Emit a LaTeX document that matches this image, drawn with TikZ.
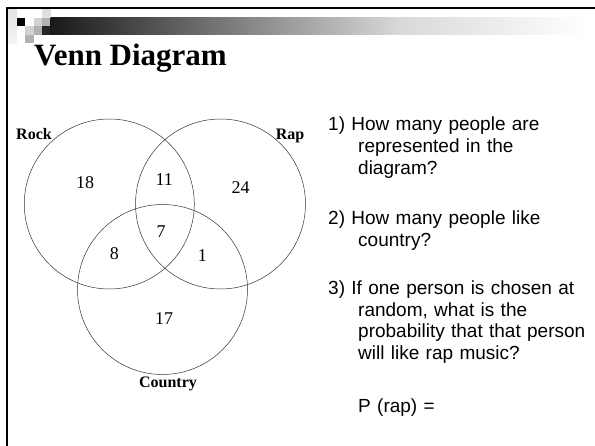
\documentclass[tikz,border=0pt]{standalone}
\usepackage{fontspec}
\setmainfont{Liberation Serif}
\setsansfont{Liberation Sans}
\pgfdeclarehorizontalshading{titlebar}{100bp}{color(0bp)=(black!90); color(25bp)=(black!90); color(57.5bp)=(black!15); color(75bp)=(white); color(100bp)=(white)}
\newcommand\indentq{\hspace*{30pt}}
\tikzset{
  every node/.style={inner sep=0pt},
  venn/.style={circle, draw=black!80, line width=0.5pt, minimum size=170pt},
  setlabel/.style={font=\fontsize{16}{18}\selectfont\bfseries},
  count/.style={font=\fontsize{18}{20}\selectfont},
  question/.style={
    font=\sffamily\fontsize{19}{21.7}\selectfont,
    text width=262pt, align=left, anchor=base west
  },
}

\begin{document}
\begin{tikzpicture}[x=1pt, y=-1pt]
    \useasboundingbox (0,0) rectangle (595,446);

    % Slide frame and header
    \draw[line width=2.2pt] (7,446) -- (7,8) -- (595,8);
    \shade[top color=gray!22, bottom color=gray!8] (8,9.5) rectangle (16.5,43.5);
    \foreach \c/\r/\tone in {1/1/black, 2/2/gray!35, 2/3/gray!60, 3/1/gray!35,
                             3/2/gray!60, 4/0/gray!25, 4/1/gray!60, 4/2/black!85}
      \fill[\tone] (8+8.5*\c, 9.5+8.5*\r) rectangle ++(8.5,8.5);
    \shade[shading=titlebar] (50.5,17.5) rectangle (588,35);
    \node[anchor=base west, font=\fontsize{31}{34}\selectfont\bfseries] (title)
      at (34,66) {Venn Diagram};

    % Sets
    \node[venn] (rock) at (109.3,204) {};
    \node[venn] (rap) at (220.5,204) {};
    \node[venn] (country) at (162.5,289.5) {};

    \node[setlabel, anchor=base] (rocklabel) at (34,140) {Rock};
    \node[setlabel, anchor=base] (raplabel) at (290,140) {Rap};
    \node[setlabel, anchor=base] (countrylabel) at (168,388) {Country};

    % Counts
    \node[count] (rockonly) at (85,182.3) {18};
    \node[count] (rockrap) at (164.3,180) {11};
    \node[count] (raponly) at (240.7,187.3) {24};
    \node[count] (allthree) at (161,231.7) {7};
    \node[count] (rockcountry) at (114.3,254) {8};
    \node[count] (rapcountry) at (202.3,256) {1};
    \node[count] (countryonly) at (164,318.3) {17};

    % Questions
    \node[question] (q1) at (328,131)
      {1) How many people are\\\indentq represented in the\\\indentq diagram?};
    \node[question] (q2) at (328,224.5)
      {2) How many people like\\\indentq country?};
    \node[question] (q3) at (328,294.5)
      {3) If one person is chosen at\\\indentq random, what is the\\\indentq probability that that person\\\indentq will like rap music?};
    \node[question] (answer) at (358,413) {P (rap) =};

\end{tikzpicture}
\end{document}
